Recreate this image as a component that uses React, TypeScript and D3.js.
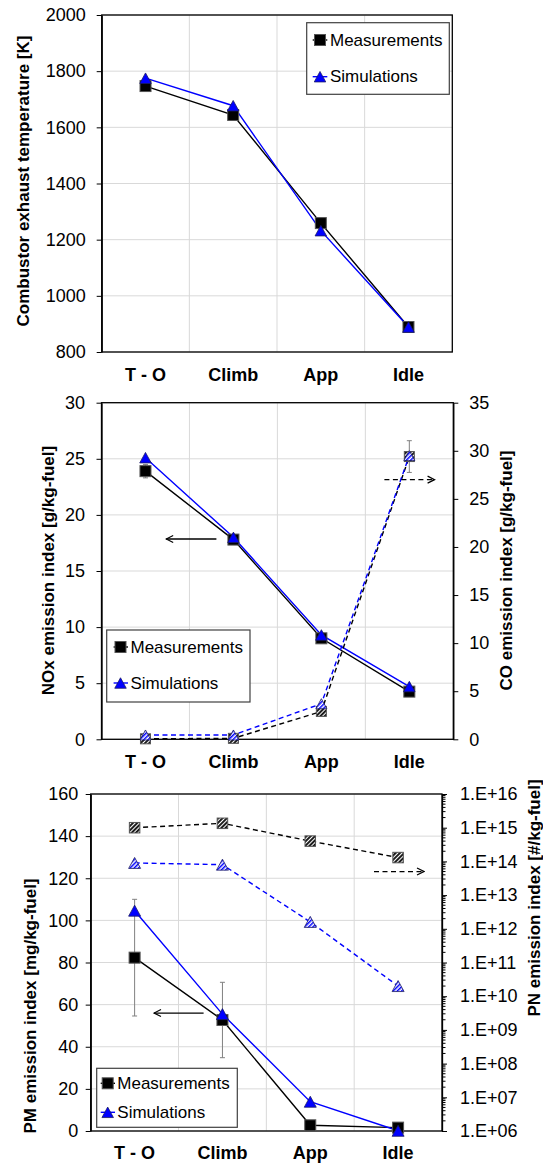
import { useEffect, useRef } from 'react';
import * as d3 from 'd3';

const modes = ['T - O', 'Climb', 'App', 'Idle'];

// Panel 1 - combustor exhaust temperature [K]
const tempTicks = [800, 1000, 1200, 1400, 1600, 1800, 2000];
const tempMeas = [1747, 1644, 1259, 889];
const tempSim = [1775, 1677, 1232, 889];

// Panel 2 - NOx (left axis) and CO (right axis)
const noxTicks = [0, 5, 10, 15, 20, 25, 30];
const coTicks = [0, 5, 10, 15, 20, 25, 30, 35];
const noxMeas = [23.9, 17.8, 9.0, 4.25];
const noxMeasErr = [0.6, 0, 0, 0];
const noxSim = [25.1, 18.0, 9.3, 4.7];
const coMeas = [0.05, 0.1, 2.9, 29.4];
const coMeasErr = [0, 0, 0, 1.65];
const coSim = [0.45, 0.45, 3.7, 29.5];

// Panel 3 - PM (left axis) and PN (right axis, log)
const pmTicks = [0, 20, 40, 60, 80, 100, 120, 140, 160];
const pnTicks = [1e6, 1e7, 1e8, 1e9, 1e10, 1e11, 1e12, 1e13, 1e14, 1e15, 1e16];
const pmMeas = [82.3, 52.7, 2.7, 1.6];
const pmMeasErr = [27.7, 17.9, 0, 0];
const pmSim = [104.6, 55.5, 13.9, 0.1];
const pnMeas = [1.0e15, 1.35e15, 4.0e14, 1.3e14];
const pnSim = [9.0e13, 8.0e13, 1.6e12, 2.0e10];

const FONT = "'Liberation Sans', Arial, sans-serif";
const BLUE = '#0000ff';

export default function App() {
  const svgRef = useRef(null);

  useEffect(() => {
    const svg = d3.select(svgRef.current);
    svg.selectAll('*').remove();

    const defs = svg.append('defs');
    const hatch = (id, color, w) => {
      const p = defs.append('pattern')
        .attr('id', id)
        .attr('patternUnits', 'userSpaceOnUse')
        .attr('width', 3)
        .attr('height', 3)
        .attr('patternTransform', 'rotate(45)');
      p.append('rect').attr('width', 3).attr('height', 3).attr('fill', '#fff');
      p.append('rect').attr('width', w).attr('height', 3).attr('fill', color);
    };
    hatch('hatch-black', '#111', 1.9);
    hatch('hatch-blue', BLUE, 1.5);

    defs.append('marker')
      .attr('id', 'arrow')
      .attr('viewBox', '0 0 10 10')
      .attr('refX', 9)
      .attr('refY', 5)
      .attr('markerWidth', 10)
      .attr('markerHeight', 10)
      .attr('markerUnits', 'userSpaceOnUse')
      .attr('orient', 'auto')
      .append('path')
      .attr('d', 'M2,1.5 L9,5 L2,8.5')
      .attr('fill', 'none')
      .attr('stroke', '#000')
      .attr('stroke-width', 1.2);

    // cadre, grille et libellés de catégories
    const panel = (p) => {
      const x = d3.scaleBand().domain(modes).range([p.left, p.right]);
      const cx = (i) => x(modes[i]) + x.bandwidth() / 2;
      const g = svg.append('g');

      g.append('g').selectAll('line')
        .data(p.gridY)
        .join('line')
        .attr('x1', p.left).attr('x2', p.right)
        .attr('y1', d => d).attr('y2', d => d)
        .attr('stroke', '#d9d9d9');

      g.append('g').selectAll('line')
        .data(modes.slice(1))
        .join('line')
        .attr('x1', d => x(d)).attr('x2', d => x(d))
        .attr('y1', p.top).attr('y2', p.bottom)
        .attr('stroke', '#d9d9d9');

      g.append('rect')
        .attr('x', p.left).attr('y', p.top)
        .attr('width', p.right - p.left).attr('height', p.bottom - p.top)
        .attr('fill', 'none')
        .attr('stroke', '#000')
        .attr('stroke-width', 1.3);

      g.append('g').selectAll('text')
        .data(modes)
        .join('text')
        .attr('x', (d, i) => cx(i))
        .attr('y', p.labelY)
        .attr('text-anchor', 'middle')
        .style('font-size', '18px')
        .style('font-weight', 'bold')
        .text(d => d);

      return { x, cx, g };
    };

    const axis = (g, gen, tx, pad) => {
      const a = g.append('g')
        .attr('transform', `translate(${tx},0)`)
        .call(gen.tickSize(5).tickSizeOuter(0).tickPadding(pad));
      a.attr('font-family', FONT).attr('font-size', 18);
      a.select('.domain').attr('stroke', '#000').attr('stroke-width', 1.3);
      a.selectAll('.tick line').attr('stroke', '#000');
      a.selectAll('text').attr('fill', '#000');
      return a;
    };

    const title = (g, x, y, text) => {
      g.append('text')
        .attr('transform', `translate(${x},${y}) rotate(-90)`)
        .attr('text-anchor', 'middle')
        .attr('dominant-baseline', 'central')
        .style('font-size', '17px')
        .style('font-weight', 'bold')
        .text(text);
    };

    const line = (g, cx, y, vals, color, dashed) => {
      g.append('path')
        .datum(vals)
        .attr('d', d3.line().x((d, i) => cx(i)).y(d => y(d)))
        .attr('fill', 'none')
        .attr('stroke', color)
        .attr('stroke-width', 1.4)
        .attr('stroke-dasharray', dashed ? '5,3.5' : null);
    };

    const squares = (g, cx, y, vals, fill, size) => {
      g.append('g').selectAll('rect')
        .data(vals)
        .join('rect')
        .attr('x', (d, i) => cx(i) - size / 2)
        .attr('y', d => y(d) - size / 2)
        .attr('width', size)
        .attr('height', size)
        .attr('fill', fill)
        .attr('stroke', '#555')
        .attr('stroke-width', 1);
    };

    const triPath = (px, py, s) =>
      `M${px},${py - s / 2} L${px + s / 2 + 0.5},${py + s / 2} L${px - s / 2 - 0.5},${py + s / 2} Z`;

    const triangles = (g, cx, y, vals, fill, size) => {
      g.append('g').selectAll('path')
        .data(vals)
        .join('path')
        .attr('d', (d, i) => triPath(cx(i), y(d), size))
        .attr('fill', fill)
        .attr('stroke', '#1a1a66')
        .attr('stroke-width', 0.8);
    };

    const errors = (g, cx, y, vals, errs) => {
      vals.forEach((v, i) => {
        if (!errs[i]) return;
        const x0 = cx(i);
        const y1 = y(v + errs[i]);
        const y2 = y(v - errs[i]);
        g.append('line').attr('x1', x0).attr('x2', x0).attr('y1', y1).attr('y2', y2)
          .attr('stroke', '#808080').attr('stroke-width', 1);
        [y1, y2].forEach(yy => {
          g.append('line').attr('x1', x0 - 2.5).attr('x2', x0 + 2.5).attr('y1', yy).attr('y2', yy)
            .attr('stroke', '#808080').attr('stroke-width', 1);
        });
      });
    };

    const legend = (g, l) => {
      g.append('rect')
        .attr('x', l.x0).attr('y', l.y0)
        .attr('width', l.x1 - l.x0).attr('height', l.y1 - l.y0)
        .attr('fill', '#fff')
        .attr('stroke', '#404040')
        .attr('stroke-width', 1.2);
      const rows = [
        { y: l.rowY[0], text: 'Measurements', color: '#000', kind: 'square' },
        { y: l.rowY[1], text: 'Simulations', color: BLUE, kind: 'triangle' }
      ];
      rows.forEach(r => {
        g.append('line')
          .attr('x1', l.lineX[0]).attr('x2', l.lineX[1])
          .attr('y1', r.y).attr('y2', r.y)
          .attr('stroke', r.color)
          .attr('stroke-width', 1.4);
        if (r.kind === 'square') {
          g.append('rect')
            .attr('x', l.markX - 5.5).attr('y', r.y - 5.5)
            .attr('width', 11).attr('height', 11)
            .attr('fill', '#000').attr('stroke', '#555');
        } else {
          g.append('path')
            .attr('d', triPath(l.markX, r.y, 10.5))
            .attr('fill', BLUE).attr('stroke', '#1a1a66').attr('stroke-width', 0.8);
        }
        g.append('text')
          .attr('x', l.textX)
          .attr('y', r.y)
          .attr('dominant-baseline', 'central')
          .style('font-size', '17px')
          .text(r.text);
      });
    };

    const arrow = (g, x1, x2, yy, dashed) => {
      g.append('line')
        .attr('x1', x1).attr('x2', x2)
        .attr('y1', yy).attr('y2', yy)
        .attr('stroke', '#000')
        .attr('stroke-width', 1.3)
        .attr('stroke-dasharray', dashed ? '5,3.5' : null)
        .attr('marker-end', 'url(#arrow)');
    };

    const intFmt = d3.format('d');

    // ---------- Panel 1 ----------
    {
      const p = { left: 101.7, right: 452.3, top: 15, bottom: 352, labelY: 381 };
      const y = d3.scaleLinear().domain([800, 2000]).range([p.bottom, p.top]);
      const { cx, g } = panel({ ...p, gridY: tempTicks.map(y) });
      axis(g, d3.axisLeft(y).tickValues(tempTicks).tickFormat(intFmt), p.left, 11);
      title(g, 23.3, 181, 'Combustor exhaust temperature [K]');
      line(g, cx, y, tempMeas, '#000', false);
      line(g, cx, y, tempSim, BLUE, false);
      squares(g, cx, y, tempMeas, '#000', 11);
      triangles(g, cx, y, tempSim, BLUE, 10.5);
      legend(g, {
        x0: 306.7, x1: 449.3, y0: 22.7, y1: 94.3,
        rowY: [40, 76.7], lineX: [312.7, 327.3], markX: 320, textX: 330
      });
    }

    // ---------- Panel 2 ----------
    {
      const p = { left: 101.5, right: 453.3, top: 402.7, bottom: 739.3, labelY: 768 };
      const y = d3.scaleLinear().domain([0, 30]).range([p.bottom, p.top]);
      const y2 = d3.scaleLinear().domain([0, 35]).range([p.bottom, p.top]);
      const { cx, g } = panel({ ...p, gridY: noxTicks.map(y) });
      axis(g, d3.axisLeft(y).tickValues(noxTicks).tickFormat(intFmt), p.left, 11.5);
      axis(g, d3.axisRight(y2).tickValues(coTicks).tickFormat(intFmt), p.right, 11);
      title(g, 48.5, 570.5, 'NOx emission index [g/kg-fuel]');
      title(g, 506, 570.5, 'CO emission index [g/kg-fuel]');

      line(g, cx, y, noxMeas, '#000', false);
      line(g, cx, y, noxSim, BLUE, false);
      line(g, cx, y2, coMeas, '#000', true);
      line(g, cx, y2, coSim, BLUE, true);
      errors(g, cx, y, noxMeas, noxMeasErr);
      errors(g, cx, y2, coMeas, coMeasErr);
      squares(g, cx, y2, coMeas, 'url(#hatch-black)', 10);
      triangles(g, cx, y2, coSim, 'url(#hatch-blue)', 10);
      squares(g, cx, y, noxMeas, '#000', 11);
      triangles(g, cx, y, noxSim, BLUE, 10.5);

      arrow(g, 216.4, 166.2, y(17.85), false);
      arrow(g, 384.4, 434.6, y2(27), true);

      legend(g, {
        x0: 106.7, x1: 250, y0: 630, y1: 702,
        rowY: [647, 683], lineX: [113.6, 128], markX: 120.5, textX: 130.5
      });
    }

    // ---------- Panel 3 ----------
    {
      const p = { left: 90.7, right: 442, top: 794, bottom: 1131, labelY: 1159 };
      const y = d3.scaleLinear().domain([0, 160]).range([p.bottom, p.top]);
      const y2 = d3.scaleLog().domain([1e6, 1e16]).range([p.bottom, p.top]);
      const { cx, g } = panel({ ...p, gridY: pmTicks.map(y) });
      axis(g, d3.axisLeft(y).tickValues(pmTicks).tickFormat(intFmt), p.left, 7.5);
      const pnFmt = d => `1.E+${String(Math.round(Math.log10(d))).padStart(2, '0')}`;
      axis(g, d3.axisRight(y2).tickValues(pnTicks).tickFormat(pnFmt), p.right, 13);

      // petites graduations logarithmiques
      const minor = [];
      pnTicks.slice(0, -1).forEach(t => {
        for (let k = 2; k <= 9; k++) minor.push(t * k);
      });
      g.append('g').selectAll('line')
        .data(minor)
        .join('line')
        .attr('x1', p.right).attr('x2', p.right + 3.5)
        .attr('y1', d => y2(d)).attr('y2', d => y2(d))
        .attr('stroke', '#000')
        .attr('stroke-width', 1);

      title(g, 30.7, 1006, 'PM emission index [mg/kg-fuel]');
      title(g, 534, 898, 'PN emission index [#/kg-fuel]');

      line(g, cx, y2, pnMeas, '#000', true);
      line(g, cx, y2, pnSim, BLUE, true);
      line(g, cx, y, pmMeas, '#000', false);
      line(g, cx, y, pmSim, BLUE, false);
      errors(g, cx, y, pmMeas, pmMeasErr);
      squares(g, cx, y2, pnMeas, 'url(#hatch-black)', 10.5);
      triangles(g, cx, y2, pnSim, 'url(#hatch-blue)', 11);
      squares(g, cx, y, pmMeas, '#000', 11);
      triangles(g, cx, y, pmSim, BLUE, 11);

      arrow(g, 203.6, 154, y(56), false);
      arrow(g, 374, 424, y2(5e13), true);

      legend(g, {
        x0: 96.7, x1: 237.3, y0: 1068.3, y1: 1127.3,
        rowY: [1083.3, 1112.3], lineX: [100.7, 115], markX: 107.7, textX: 117.3
      });
    }
  }, []);

  return (
    <svg
      ref={svgRef}
      width={543}
      height={1164}
      style={{ position: 'absolute', left: 0, top: 0, background: '#fff', fontFamily: FONT }}
    />
  );
}
